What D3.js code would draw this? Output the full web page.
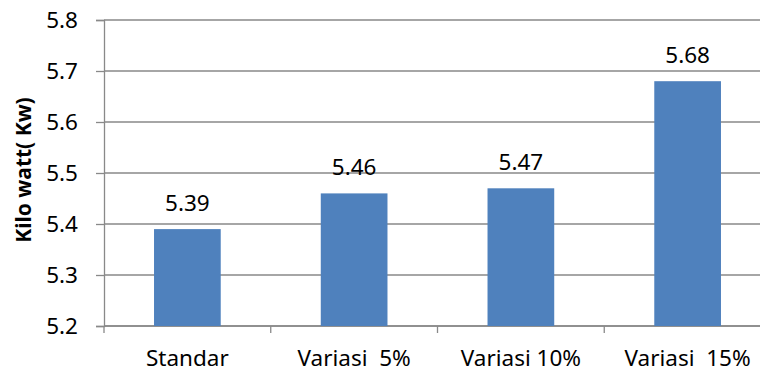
<!DOCTYPE html>
<html>
<head>
<meta charset="utf-8">
<script src="https://cdn.jsdelivr.net/npm/d3@7"></script>
<style>
  html, body { margin: 0; padding: 0; background: #fff; }
  svg { display: block; }
  text { font-family: "Noto Sans", "Open Sans", sans-serif; fill: #000; }
</style>
</head>
<body>
<svg id="chart" width="760" height="372"></svg>
<script>
// Power output per configuration
const categories = ["Standar", "Variasi  5%", "Variasi 10%", "Variasi  15%"];
const values = [5.39, 5.46, 5.47, 5.68];
const yTicks = [5.2, 5.3, 5.4, 5.5, 5.6, 5.7, 5.8];
const yTitle = "Kilo watt( Kw)";

const svg = d3.select("#chart");
const plotLeft = 104, plotRight = 771, plotTop = 20, plotBottom = 326;

const x = d3.scaleBand()
  .domain(categories)
  .range([plotLeft, plotRight])
  .paddingInner(0.6)
  .paddingOuter(0.3);

const y = d3.scaleLinear().domain([5.2, 5.8]).range([plotBottom, plotTop]);

const gridColor = "#898989";

// horizontal gridlines
svg.append("g")
  .selectAll("line")
  .data(yTicks)
  .join("line")
  .attr("x1", plotLeft).attr("x2", 760)
  .attr("y1", d => y(d)).attr("y2", d => y(d))
  .attr("stroke", gridColor).attr("stroke-width", 1.3);

// y axis
const yAxis = svg.append("g")
  .attr("transform", `translate(${plotLeft},0)`)
  .call(d3.axisLeft(y).tickValues(yTicks).tickFormat(d3.format(".1f")).tickSize(8).tickPadding(18));
yAxis.select(".domain").attr("stroke", gridColor).attr("stroke-width", 1.3);
yAxis.selectAll(".tick line").attr("stroke", gridColor).attr("stroke-width", 1.3);
yAxis.selectAll(".tick text")
  .style("font-family", "'Noto Sans', sans-serif")
  .style("font-size", "22.5px")
  .attr("fill", "#000");

// x axis: ticks at category boundaries
const step = x.step();
const boundaries = d3.range(categories.length + 1).map(i => plotLeft + i * step);
const xAxis = svg.append("g");
xAxis.append("line")
  .attr("x1", plotLeft).attr("x2", 760)
  .attr("y1", plotBottom).attr("y2", plotBottom)
  .attr("stroke", gridColor).attr("stroke-width", 1.3);
xAxis.selectAll("line.tk")
  .data(boundaries)
  .join("line")
  .attr("class", "tk")
  .attr("x1", d => d).attr("x2", d => d)
  .attr("y1", plotBottom).attr("y2", plotBottom + 7)
  .attr("stroke", gridColor).attr("stroke-width", 1.3);
xAxis.selectAll("text")
  .data(categories)
  .join("text")
  .attr("x", d => x(d) + x.bandwidth() / 2)
  .attr("y", 366)
  .attr("text-anchor", "middle")
  .style("white-space", "pre")
  .style("font-size", "22.5px")
  .text(d => d);

// bars
svg.append("g")
  .selectAll("rect")
  .data(values)
  .join("rect")
  .attr("x", (d, i) => x(categories[i]))
  .attr("width", x.bandwidth())
  .attr("y", d => y(d))
  .attr("height", d => plotBottom - y(d))
  .attr("fill", "#4F81BD");

// value labels
svg.append("g")
  .selectAll("text")
  .data(values)
  .join("text")
  .attr("x", (d, i) => x(categories[i]) + x.bandwidth() / 2)
  .attr("y", d => y(d) - 18)
  .attr("text-anchor", "middle")
  .style("font-size", "22.5px")
  .text(d => d.toFixed(2));

// y axis title
svg.append("text")
  .attr("transform", "translate(31,170) rotate(-90)")
  .attr("text-anchor", "middle")
  .style("font-size", "21px")
  .style("font-weight", "bold")
  .text(yTitle);
</script>
</body>
</html>
